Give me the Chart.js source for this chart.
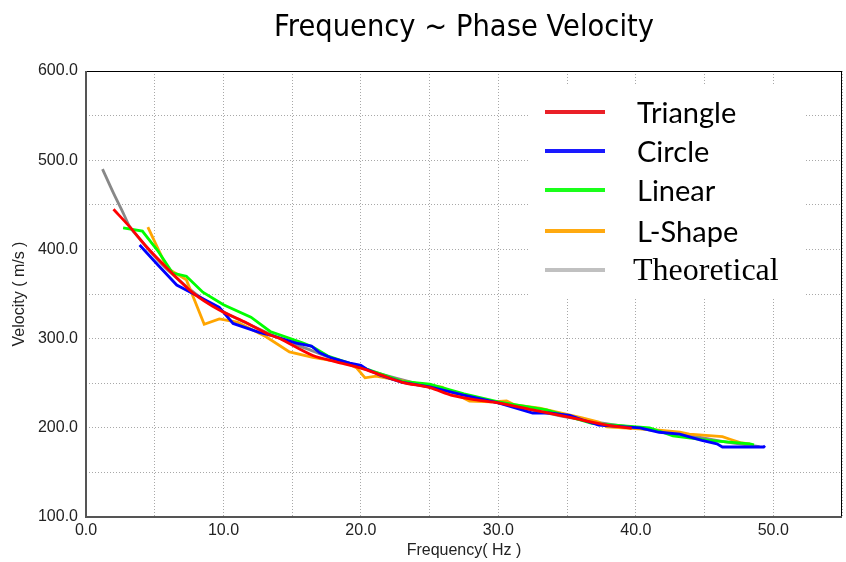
<!DOCTYPE html>
<html>
<head>
<meta charset="utf-8">
<script src="https://cdn.jsdelivr.net/npm/chart.js@4.4.0/dist/chart.umd.min.js"></script>
<style>
  html, body { margin: 0; padding: 0; background: #fff; }
  #wrap { width: 846px; height: 562px; }
</style>
</head>
<body>
<div id="wrap"><canvas id="c" width="846" height="562"></canvas></div>
<script>
const chartTitle = "Frequency ~ Phase Velocity";
const xTitle = "Frequency( Hz )";
const yTitle = "Velocity ( m/s )";

const seriesNames = ["Triangle", "Circle", "Linear", "L-Shape", "Theoretical"];

const triangleFreq = [2.0, 3.2, 4.4, 5.9, 7.8, 9.7, 11.7, 13.4, 14.1, 16.5, 18.2, 20.0, 21.5, 23.0, 25.0, 26.7, 28.5, 30.0, 32.5, 35.4, 37.9, 39.7];
const triangleVel  = [445, 425, 403, 379, 351, 332, 317.5, 304, 300, 281, 274, 267, 259, 251, 245, 236, 231, 228, 220, 211, 203, 199.5];

const circleFreq = [3.9, 5.2, 6.6, 7.6, 9.7, 10.7, 12.6, 13.4, 15.3, 16.4, 17.0, 17.9, 19.2, 20.0, 20.4, 21.4, 23.0, 25.0, 27.4, 30.0, 32.5, 33.7, 35.2, 36.1, 37.3, 40.3, 41.7, 43.2, 44.8, 45.9, 46.3, 49.3, 49.4];
const circleVel  = [405, 383, 360, 352, 335, 317, 307, 304, 295, 291.7, 284, 278, 272.6, 270, 266, 259, 251, 246, 236.8, 228, 216.6, 216.6, 214, 209, 203, 200, 195, 193, 186, 182, 178.5, 178.5, 180];

const linearFreq = [2.7, 4.1, 5.2, 6.3, 7.3, 8.5, 10.0, 12.0, 13.4, 15.8, 16.5, 17.6, 20.0, 23.0, 25.0, 27.5, 30.0, 31.5, 33.5, 36.8, 41.0, 42.7, 45.3, 48.3, 48.6];
const linearVel  = [424, 420.6, 399, 373.5, 370, 352, 338, 324, 308, 295, 290.6, 280.5, 268, 252, 249, 238, 229, 225, 220, 205, 200, 191, 186, 182, 181];

const lshapeFreq = [4.5, 5.9, 7.3, 8.6, 9.7, 11.0, 13.1, 14.8, 16.5, 19.0, 19.7, 20.3, 21.1, 22.5, 25.0, 25.9, 27.9, 29.5, 30.6, 31.2, 33.0, 36.1, 37.3, 37.9, 41.7, 43.2, 43.9, 46.3, 46.8, 47.7, 48.3];
const lshapeVel  = [425, 379, 366, 316, 322, 318.6, 302, 285, 279, 272.6, 267, 256, 258, 254, 247, 245.7, 230, 229, 230, 225.6, 222, 211, 206.5, 201, 197.5, 195, 193, 190, 187.4, 183, 182];

const theoFreq = [1.2, 2.0, 2.7, 3.2, 4.0, 5.0, 6.0, 8.0, 10.0, 12.0, 14.0, 16.0, 18.0, 20.0, 22.0, 25.0, 28.0, 30.0, 33.0, 36.0, 40.0, 44.0, 47.0, 49.0];
const theoVel  = [490, 463, 441, 425, 410, 392, 376, 350, 330, 315, 301, 289, 277, 267, 258, 246, 235, 228, 218, 209, 200, 191, 183, 179];

const xRange = [0, 55];
const yRange = [100, 600];

function pts(xs, ys) { return xs.map((x, i) => ({ x: x, y: ys[i] })); }

const lineColors   = ["#ff0000", "#0000ff", "#00ff00", "#ffa500", "#888888"];
const legendColors = ["#ea2027", "#1a1aff", "#1aff1a", "#ffaa10", "#c0c0c0"];
const allData = [
  pts(triangleFreq, triangleVel),
  pts(circleFreq, circleVel),
  pts(linearFreq, linearVel),
  pts(lshapeFreq, lshapeVel),
  pts(theoFreq, theoVel)
];

const datasets = seriesNames.map((name, i) => ({
  label: name,
  data: allData[i],
  borderColor: lineColors[i],
  backgroundColor: lineColors[i],
  borderWidth: 2.8,
  pointRadius: 0,
  fill: false,
  tension: (i === 0 || i === 4) ? 0.3 : 0,
  legendColor: legendColors[i]
}));

const decor = {
  id: 'decor',
  beforeDraw(chart) {
    const ctx = chart.ctx;
    ctx.save();
    ctx.fillStyle = '#fff';
    ctx.fillRect(0, 0, chart.width, chart.height);
    ctx.restore();
  },
  afterDraw(chart) {
    const ctx = chart.ctx;
    const a = chart.chartArea;
    ctx.save();
    // frame
    ctx.strokeStyle = '#000';
    ctx.lineWidth = 1;
    ctx.beginPath();
    ctx.moveTo(a.left, a.top + 0.5); ctx.lineTo(a.right, a.top + 0.5);
    ctx.moveTo(a.right - 0.5, a.top); ctx.lineTo(a.right - 0.5, a.bottom);
    ctx.stroke();
    ctx.strokeStyle = '#555';
    ctx.lineWidth = 2;
    ctx.beginPath();
    ctx.moveTo(a.left, a.top); ctx.lineTo(a.left, a.bottom);
    ctx.lineTo(a.right, a.bottom);
    ctx.stroke();

    // title
    ctx.fillStyle = '#000';
    ctx.font = '30px "DejaVu Sans"';
    ctx.textAlign = 'center';
    ctx.textBaseline = 'alphabetic';
    ctx.fillText(chartTitle, (a.left + a.right) / 2, 36, 380);

    // legend box
    ctx.fillStyle = '#fff';
    ctx.fillRect(530, 86, 275, 212);
    const rowY = [112, 151, 190, 231, 270];
    chart.data.datasets.forEach((ds, i) => {
      const y = rowY[i];
      ctx.strokeStyle = ds.legendColor;
      ctx.lineWidth = 4;
      ctx.beginPath();
      ctx.moveTo(545, y); ctx.lineTo(605, y);
      ctx.stroke();
      ctx.fillStyle = '#000';
      ctx.textAlign = 'left';
      if (i === 4) {
        ctx.font = '32px "Liberation Serif"';
        ctx.fillText(ds.label, 633, y + 10, 148);
      } else {
        ctx.font = '29px Lato';
        ctx.fillText(ds.label, 637, y + 11);
      }
    });
    ctx.restore();
  }
};

const tickFont = { family: '"Liberation Sans", Arial, sans-serif', size: 16 };

new Chart(document.getElementById('c'), {
  type: 'line',
  data: { datasets: datasets },
  plugins: [decor],
  options: {
    responsive: false,
    animation: false,
    parsing: true,
    layout: { padding: { top: 71, right: 3, left: 0, bottom: 0 } },
    plugins: { legend: { display: false }, title: { display: false }, tooltip: { enabled: false } },
    scales: {
      x: {
        type: 'linear',
        min: xRange[0], max: xRange[1],
        afterFit(s) { s.height = 45; },
        border: { display: false, dash: [1, 2] },
        grid: { color: '#a8a8a8', drawTicks: false, lineWidth: 1 },
        ticks: {
          stepSize: 5, autoSkip: false, maxRotation: 0, padding: 4,
          color: '#222', font: tickFont,
          callback: v => (v % 10 === 0 ? v.toFixed(1) : '')
        },
        title: { display: true, text: xTitle, color: '#222', font: tickFont, padding: { top: 0, bottom: 2 } }
      },
      y: {
        type: 'linear',
        min: yRange[0], max: yRange[1],
        afterFit(s) { s.width = 86; },
        border: { display: false, dash: [1, 2] },
        grid: { color: '#a8a8a8', drawTicks: false, lineWidth: 1 },
        ticks: {
          stepSize: 50, autoSkip: false, padding: 8,
          color: '#222', font: tickFont,
          callback: v => (v % 100 === 0 ? v.toFixed(1) : '')
        },
        title: { display: true, text: yTitle, color: '#222', font: tickFont, padding: { top: 10, bottom: 0 } }
      }
    }
  }
});
</script>
</body>
</html>
